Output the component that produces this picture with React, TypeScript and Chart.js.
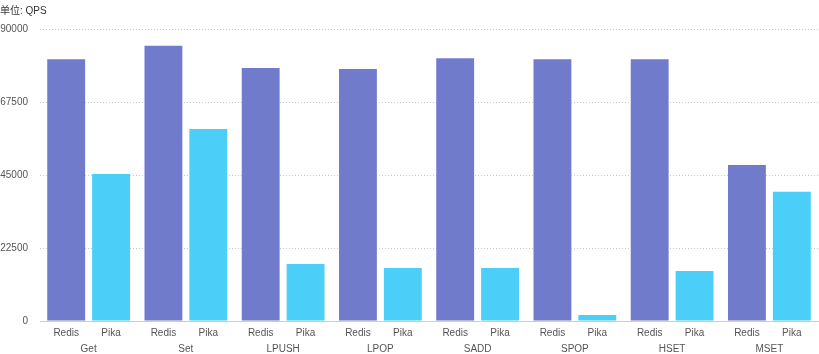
import React, { useEffect, useRef } from "react";
import { Chart, registerables } from "chart.js";

Chart.register(...registerables);

const groups = ["Get", "Set", "LPUSH", "LPOP", "SADD", "SPOP", "HSET", "MSET"];
const subLabels = ["Redis", "Pika", "Redis", "Pika", "Redis", "Pika", "Redis", "Pika", "Redis", "Pika", "Redis", "Pika", "Redis", "Pika", "Redis", "Pika"];
const redisQps = [80700, 84800, 78000, 77700, 81000, 80700, 80700, 48100];
const pikaQps = [45300, 59200, 17600, 16300, 16300, 1850, 15400, 39800];
const yTicks = [0, 22500, 45000, 67500, 90000];
const titleText = "单位: QPS";

const FONT = "'Helvetica Neue', Helvetica, Arial, 'Liberation Sans', 'Noto Sans CJK SC', sans-serif";
const CAT_PCT = 0.923;
const BAR_PCT = 0.844;

export default function App() {
  const ref = useRef<HTMLCanvasElement>(null);
  useEffect(() => {
    document.body.style.margin = "0";
    const ctx = ref.current!;
    const chart = new Chart(ctx, {
      type: "bar",
      data: {
        labels: groups,
        datasets: [
          { label: "Redis", data: redisQps, backgroundColor: "#707bcc", categoryPercentage: CAT_PCT, barPercentage: BAR_PCT },
          { label: "Pika", data: pikaQps, backgroundColor: "#4bcff9", categoryPercentage: CAT_PCT, barPercentage: BAR_PCT },
        ],
      },
      options: {
        animation: false,
        responsive: false,
        maintainAspectRatio: false,
        layout: { padding: { left: 0, right: 1, top: 0, bottom: 0 } },
        plugins: {
          legend: { display: false },
          tooltip: { enabled: false },
          title: {
            display: true,
            text: titleText,
            align: "start",
            color: "#333",
            font: { family: FONT, size: 10, weight: "normal" },
            padding: { top: 5, bottom: 12 },
          },
        },
        scales: {
          x: {
            type: "category",
            position: "bottom",
            weight: 1,
            grid: { display: false, drawTicks: false },
            border: { display: false },
            ticks: { color: "#555", font: { family: FONT, size: 10 }, padding: 5, autoSkip: false, maxRotation: 0 },
            afterFit: (axis: any) => {
              axis.height = 16;
            },
          },
          xSub: {
            type: "linear",
            position: "bottom",
            weight: 0,
            min: -0.5,
            max: groups.length - 0.5,
            offset: false,
            afterBuildTicks: (axis: any) => {
              axis.ticks = groups.flatMap((_, i) => [{ value: i - CAT_PCT / 4 }, { value: i + CAT_PCT / 4 }]);
            },
            grid: { display: false, drawTicks: false },
            border: { display: true, color: "#cccccc", width: 1 },
            ticks: {
              color: "#555",
              font: { family: FONT, size: 10 },
              padding: 6,
              autoSkip: false,
              maxRotation: 0,
              callback: (_v: any, idx: number) => subLabels[idx],
            },
            afterFit: (axis: any) => {
              axis.height = 17;
            },
          },
          y: {
            min: 0,
            max: 90000,
            afterBuildTicks: (axis: any) => {
              axis.ticks = yTicks.map((v) => ({ value: v }));
            },
            afterFit: (axis: any) => {
              axis.width = 40;
            },
            grid: { color: "#c8c8c8", drawTicks: false, lineWidth: 1 },
            border: { display: false, dash: [1, 2] },
            ticks: {
              color: "#555",
              font: { family: FONT, size: 10 },
              padding: 12,
              callback: (v: any) => String(v),
            },
          },
        },
      },
    });
    return () => chart.destroy();
  }, []);
  return (
    <div style={{ width: 819, height: 354 }}>
      <canvas ref={ref} width={819} height={354} style={{ display: "block" }} />
    </div>
  );
}
